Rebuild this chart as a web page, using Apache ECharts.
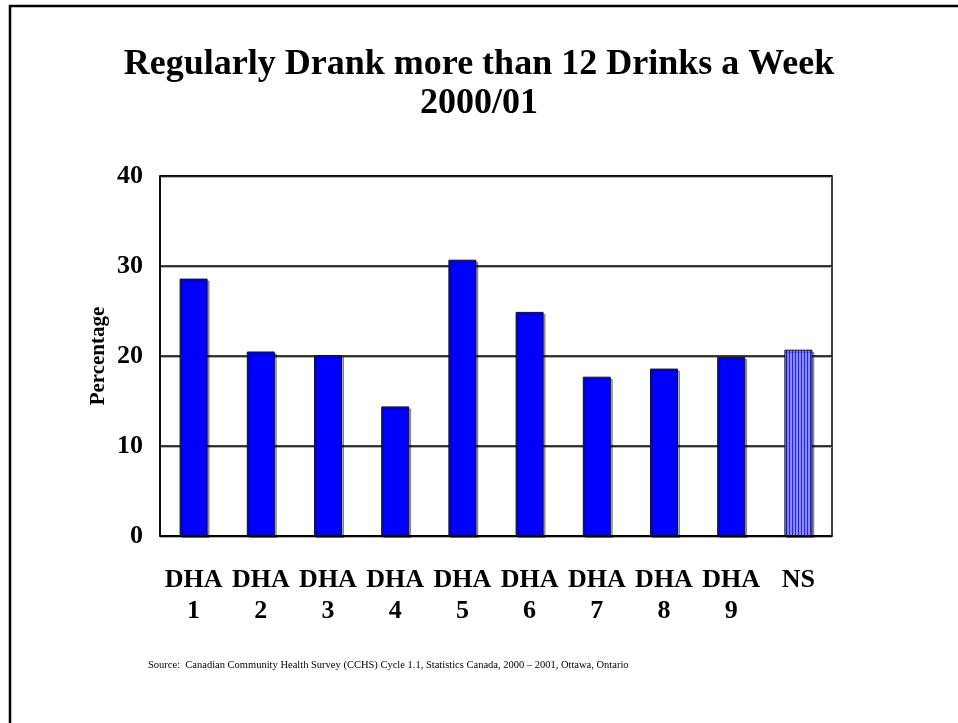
<!DOCTYPE html>
<html>
<head>
<meta charset="utf-8">
<script src="https://cdn.jsdelivr.net/npm/echarts@6/dist/echarts.min.js"></script>
<style>
  html, body { margin: 0; padding: 0; background: #fff; }
  #chart { width: 958px; height: 723px; }
</style>
</head>
<body>
<div id="chart"></div>
<script>
  const categories = ['DHA\n1', 'DHA\n2', 'DHA\n3', 'DHA\n4', 'DHA\n5', 'DHA\n6', 'DHA\n7', 'DHA\n8', 'DHA\n9', 'NS'];
  const values = [28.6, 20.5, 20.1, 14.4, 30.7, 24.9, 17.7, 18.6, 19.9, 20.7];
  const yTicks = [0, 10, 20, 30, 40];

  // vertical stripe fill for the NS bar
  const stripe = document.createElement('canvas');
  stripe.width = 3;
  stripe.height = 4;
  const sctx = stripe.getContext('2d');
  sctx.fillStyle = '#8c8cff';
  sctx.fillRect(0, 0, 3, 4);
  sctx.fillStyle = '#2020ff';
  sctx.fillRect(0, 0, 1, 4);

  const font = '"Liberation Serif", "Times New Roman", serif';

  const chart = echarts.init(document.getElementById('chart'));
  chart.setOption({
    animation: false,
    backgroundColor: '#fff',
    title: [
      {
        text: 'Regularly Drank more than 12 Drinks a Week\n2000/01',
        left: 'center',
        top: 40,
        textStyle: { fontFamily: font, fontWeight: 'bold', fontSize: 36, color: '#000', lineHeight: 39 },
      },
      {
        text: 'Source:  Canadian Community Health Survey (CCHS) Cycle 1.1, Statistics Canada, 2000 \u2013 2001, Ottawa, Ontario',
        left: 148,
        top: 660,
        padding: 0,
        textStyle: { fontFamily: font, fontWeight: 'normal', fontSize: 10.5, color: '#000' },
      },
    ],
    graphic: [
      {
        type: 'rect',
        shape: { x: 10, y: 6, width: 960, height: 730 },
        style: { fill: 'none', stroke: '#000', lineWidth: 2.5 },
        silent: true,
      },
    ],
    grid: {
      left: 160,
      right: 126,
      top: 176,
      bottom: 187,
      show: true,
      borderColor: '#000',
      borderWidth: 1.5,
    },
    xAxis: {
      type: 'category',
      data: categories,
      axisLine: { lineStyle: { color: '#000', width: 1.5 } },
      axisTick: { show: false },
      axisLabel: {
        margin: 29,
        interval: 0,
        fontFamily: font,
        fontWeight: 'bold',
        fontSize: 26,
        lineHeight: 31,
        color: '#000',
        verticalAlign: 'top',
      },
    },
    yAxis: {
      type: 'value',
      min: yTicks[0],
      max: yTicks[yTicks.length - 1],
      interval: 10,
      name: 'Percentage',
      nameLocation: 'middle',
      nameGap: 51,
      nameMoveOverlap: false,
      nameTextStyle: { fontFamily: font, fontWeight: 'bold', fontSize: 21, color: '#000' },
      axisLine: { show: true, lineStyle: { color: '#000', width: 1.5 } },
      axisTick: { show: false },
      axisLabel: {
        margin: 17,
        fontFamily: font,
        fontWeight: 'bold',
        fontSize: 26,
        color: '#000',
      },
      splitLine: {
        lineStyle: {
          color: '#000',
          width: 1.5,
          shadowColor: '#999',
          shadowOffsetY: 1,
          shadowBlur: 0,
        },
      },
    },
    series: [
      {
        type: 'bar',
        barWidth: 28,
        data: values.map((v, i) => ({
          value: v,
          itemStyle: i === values.length - 1
            ? { color: { image: stripe, repeat: 'repeat' } }
            : {},
        })),
        itemStyle: {
          color: '#0000ff',
          borderColor: '#111',
          borderWidth: 1,
          shadowColor: 'rgba(0,0,0,0.35)',
          shadowOffsetX: 2,
          shadowOffsetY: 2,
          shadowBlur: 0,
        },
      },
    ],
  });
</script>
</body>
</html>
